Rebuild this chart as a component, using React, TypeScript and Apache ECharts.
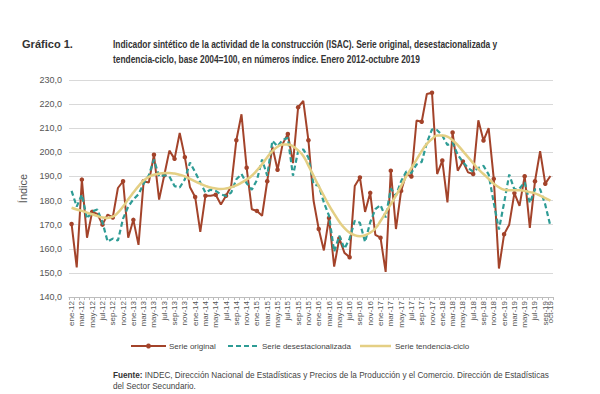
import React, { useEffect, useRef } from "react";
import * as echarts from "echarts";

const MONTHS = ["ene", "feb", "mar", "abr", "may", "jun", "jul", "ago", "sep", "oct", "nov", "dic"];
const YEARS = ["12", "13", "14", "15", "16", "17", "18", "19"];
const categories: string[] = [];
YEARS.forEach((y) => MONTHS.forEach((m) => categories.push(`${m}-${y}`)));
categories.splice(94);

const yTicks = { min: 140, max: 230, interval: 10 };

const serieOriginal = [
  170.3, 152.3, 188.7, 164.6, 175.3, 174.5, 170.0, 174.2, 173.0, 185.2, 188.0, 164.6,
  172.0, 161.6, 188.0, 187.5, 199.0, 180.4, 190.5, 200.7, 197.3, 208.0, 198.0, 185.5,
  181.5, 167.0, 182.0, 182.0, 182.4, 178.4, 182.0, 186.0, 205.0, 215.8, 193.6, 176.4,
  175.7, 173.7, 188.0, 202.3, 192.8, 203.5, 207.6, 195.5, 218.7, 221.3, 205.0, 179.9,
  168.2, 159.3, 172.8, 152.6, 164.3, 158.3, 156.5, 186.0, 189.6, 175.3, 183.2, 165.8,
  164.6, 150.4, 192.4, 168.2, 184.0, 191.0, 190.0, 213.2, 212.7, 224.2, 224.7, 191.0,
  196.6, 179.2, 208.2, 192.4, 196.2, 191.7, 191.0, 213.3, 204.9, 210.0, 189.0, 151.8,
  166.0, 170.0, 183.1, 177.8, 190.1, 168.7, 188.0, 200.5, 187.0, 190.2,
];

const serieDesestacionalizada = [
  184.0, 177.5, 182.5, 172.5, 175.5, 176.3, 171.0, 163.0, 164.2, 163.4, 172.5, 177.5,
  180.5, 182.6, 187.0, 190.5, 197.0, 190.0, 190.5, 190.0, 186.0, 185.4, 188.8, 195.8,
  191.8, 187.5, 183.3, 184.5, 184.0, 182.6, 181.9, 183.3, 188.8, 191.0, 187.2, 184.5,
  188.5, 197.0, 190.3, 204.8, 202.5, 205.2, 206.0, 190.3, 200.5, 201.2, 197.8, 186.7,
  186.2, 179.2, 173.7, 158.8, 165.4, 160.0, 164.2, 171.6, 170.8, 162.8, 171.0, 176.4,
  178.1, 173.0, 185.0, 182.0, 188.0, 192.0, 191.5, 195.0, 196.0, 204.0, 209.5, 209.2,
  207.0, 203.0, 204.0, 199.0, 196.0, 193.5, 192.0, 193.5, 194.4, 190.8, 179.0, 168.0,
  179.0, 190.8, 184.6, 185.0, 187.6, 179.0, 184.6, 184.7, 178.3, 169.4,
];

const serieTendencia = [
  177.0, 176.3, 175.7, 175.0, 174.3, 173.6, 173.0, 172.8, 173.3, 175.0, 177.5, 180.5,
  183.3, 186.0, 188.3, 189.8, 190.7, 191.2, 191.4, 191.4, 191.2, 190.7, 190.0, 189.0,
  188.0, 187.0, 186.1, 185.4, 185.0, 184.8, 185.0, 185.5, 186.3, 187.4, 188.7, 190.3,
  192.5, 195.0, 198.0, 200.5, 202.3, 203.2, 203.3, 202.5, 200.8, 198.5, 194.5, 190.3,
  186.0, 182.0, 178.0, 174.5, 171.2, 168.6, 166.7, 165.6, 165.2, 165.6, 166.7, 168.4,
  171.5, 175.0, 178.5, 182.0, 186.0, 190.0, 193.5, 197.0, 200.5, 203.5, 205.5, 207.0,
  207.0, 206.5, 205.0, 203.0, 200.5, 198.0, 195.5, 193.0, 191.0, 189.0, 187.0, 185.5,
  184.5, 184.3, 184.3, 184.3, 184.0, 183.5, 183.0, 182.0, 181.0, 180.0,
];

const seriesNames = ["Serie original", "Serie desestacionalizada", "Serie tendencia-ciclo"];
const titleLabel = "Gráfico 1.";
const titleLines = [
  "Indicador sintético de la actividad de la construcción (ISAC). Serie original, desestacionalizada y",
  "tendencia-ciclo, base 2004=100, en números índice. Enero 2012-octubre 2019",
];
const sourceLines = [
  "{b|Fuente:} INDEC, Dirección Nacional de Estadísticas y Precios de la Producción y el Comercio. Dirección de Estadísticas",
  "del Sector Secundario.",
];

const SANS = "'Liberation Sans', Arial, sans-serif";
const TITLE_FONT = `bold 11px ${SANS}`;

const COLORS = { original: "#a3432a", desest: "#2e9c95", tend: "#e4cf84" };

function measure(text: string, font: string): number {
  const c = document.createElement("canvas").getContext("2d");
  if (!c) return text.length * 5;
  c.font = font;
  return c.measureText(text).width;
}

export default function App() {
  const ref = useRef<HTMLDivElement>(null);
  useEffect(() => {
    if (!ref.current) return;
    const chart = echarts.init(ref.current, undefined, { renderer: "svg" });
    const sLabel = 51 / measure(titleLabel, TITLE_FONT);
    const sTitle = 385 / measure(titleLines[0], TITLE_FONT);
    const legendY = 346;
    const legendText = (t: string, x: number) => ({
      type: "text",
      x,
      y: legendY,
      style: { text: t, fontSize: 8, fontFamily: SANS, fill: "#444", verticalAlign: "middle" },
    });
    const labelBase = {
      rotate: 90,
      fontSize: 8,
      color: "#555",
      fontFamily: SANS,
      margin: 4,
    };
    const lastIdx = categories.length - 1;
    chart.setOption({
      animation: false,
      backgroundColor: "#ffffff",
      grid: { left: 69, right: 47, top: 80, bottom: 97, containLabel: false },
      xAxis: [
        {
          type: "category",
          data: categories,
          boundaryGap: true,
          axisLine: { lineStyle: { color: "#bdbdbd", width: 1 } },
          axisTick: { show: true, interval: 0, length: 3, lineStyle: { color: "#bdbdbd" } },
          axisLabel: {
            ...labelBase,
            interval: (idx: number) => idx % 2 === 0,
          },
        },
        {
          type: "category",
          data: categories,
          position: "bottom",
          boundaryGap: true,
          axisLine: { show: false },
          axisTick: { show: false },
          splitLine: { show: false },
          axisLabel: {
            ...labelBase,
            showMaxLabel: true,
            interval: (idx: number) => idx === lastIdx,
          },
        },
      ],
      yAxis: {
        type: "value",
        min: yTicks.min,
        max: yTicks.max,
        interval: yTicks.interval,
        name: "Índice",
        nameLocation: "middle",
        nameRotate: 90,
        nameGap: 40,
        nameTextStyle: { fontSize: 11, color: "#555", fontFamily: SANS },
        axisLine: { show: false },
        axisTick: { show: false },
        axisLabel: {
          fontSize: 9,
          color: "#555",
          fontFamily: SANS,
          margin: 7,
          formatter: (v: number) => v.toFixed(1).replace(".", ","),
        },
        splitLine: { lineStyle: { color: "#d9d9d9", width: 1 } },
      },
      series: [
        {
          name: seriesNames[0],
          type: "line",
          data: serieOriginal,
          symbol: "circle",
          symbolSize: 4.5,
          itemStyle: { color: COLORS.original },
          lineStyle: { color: COLORS.original, width: 2 },
          z: 2,
        },
        {
          name: seriesNames[1],
          type: "line",
          data: serieDesestacionalizada,
          symbol: "none",
          itemStyle: { color: COLORS.desest },
          lineStyle: { color: COLORS.desest, width: 2.2, type: [5, 3] },
          z: 3,
        },
        {
          name: seriesNames[2],
          type: "line",
          data: serieTendencia,
          symbol: "none",
          smooth: true,
          itemStyle: { color: COLORS.tend },
          lineStyle: { color: COLORS.tend, width: 2.5 },
          z: 4,
        },
      ],
      graphic: [
        {
          type: "text",
          x: 22,
          y: 44,
          scaleX: sLabel,
          style: { text: titleLabel, font: TITLE_FONT, fill: "#333", verticalAlign: "middle" },
        },
        ...titleLines.map((t, i) => ({
          type: "text",
          x: 113,
          y: 44 + i * 15,
          scaleX: sTitle,
          style: { text: t, font: TITLE_FONT, fill: "#333", verticalAlign: "middle" },
        })),
        {
          type: "line",
          shape: { x1: 131, y1: legendY, x2: 166, y2: legendY },
          style: { stroke: COLORS.original, lineWidth: 2 },
        },
        { type: "circle", shape: { cx: 148.5, cy: legendY, r: 2.5 }, style: { fill: COLORS.original } },
        legendText(seriesNames[0], 169),
        {
          type: "line",
          shape: { x1: 228, y1: legendY, x2: 259, y2: legendY },
          style: { stroke: COLORS.desest, lineWidth: 2.2, lineDash: [5, 3] },
        },
        legendText(seriesNames[1], 262),
        {
          type: "line",
          shape: { x1: 360, y1: legendY, x2: 391, y2: legendY },
          style: { stroke: COLORS.tend, lineWidth: 2.5 },
        },
        legendText(seriesNames[2], 395),
        ...sourceLines.map((t, i) => ({
          type: "text",
          x: 113,
          y: 375 + i * 11,
          style: {
            text: t,
            fontSize: 8.2,
            fontFamily: SANS,
            fill: "#444",
            verticalAlign: "middle",
            rich: { b: { fontWeight: "bold", fontSize: 8.2, fontFamily: SANS, fill: "#333" } },
          },
        })),
      ],
    });
    return () => chart.dispose();
  }, []);
  return (
    <div
      ref={ref}
      style={{ position: "fixed", left: 0, top: 0, width: 600, height: 394, background: "#fff" }}
    />
  );
}
